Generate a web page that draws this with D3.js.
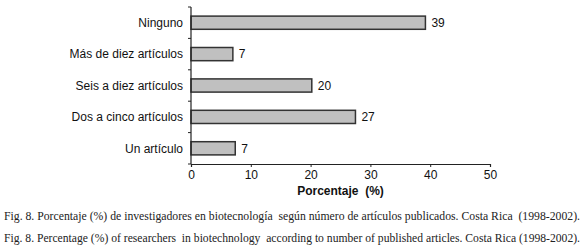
<!DOCTYPE html>
<html>
<head>
<meta charset="utf-8">
<script src="https://cdn.jsdelivr.net/npm/d3@7"></script>
<style>
  body { margin: 0; background: #fff; }
  svg { display: block; }
  .caption { white-space: pre; }
</style>
</head>
<body>
<svg id="chart" width="583" height="248"></svg>
<script>
var categories = ["Ninguno", "Más de diez artículos", "Seis a diez artículos", "Dos a cinco artículos", "Un artículo"]
var values = [39.2, 7, 20.2, 27.5, 7.4]
var valueLabels = ["39", "7", "20", "27", "7"]
var xTicks = [0, 10, 20, 30, 40, 50]
var captions = [
    "Fig. 8. Porcentaje (%) de investigadores en biotecnología  según número de artículos publicados. Costa Rica  (1998-2002).",
    "Fig. 8. Percentage (%) of researchers  in biotechnology  according to number of published articles. Costa Rica (1998-2002)."
]

var margin = { top: 7, left: 191, right: 93, bottom: 84 }
var svg = d3.select("#chart")
var width = 583 - margin.left - margin.right
var height = 248 - margin.top - margin.bottom

var g = svg.append("g")
    .attr("transform", `translate(${margin.left},${margin.top})`)

const X_scale = d3.scaleLinear()
    .domain([0, 50])
    .range([0, width])

const Y_scale = d3.scaleBand()
    .domain(categories)
    .range([0, height])
    .paddingInner(0.58)
    .paddingOuter(0.29)

// bars
g.selectAll("rect.bar")
    .data(categories)
    .join("rect")
    .attr("class", "bar")
    .attr("x", 0)
    .attr("y", d => Y_scale(d))
    .attr("width", (d, i) => X_scale(values[i]))
    .attr("height", Y_scale.bandwidth())
    .attr("fill", "#c0c0c0")
    .attr("stroke", "#333")
    .attr("stroke-width", 1.5)

g.selectAll("text.val")
    .data(categories)
    .join("text")
    .attr("class", "val")
    .attr("x", (d, i) => X_scale(values[i]) + 6)
    .attr("y", d => Y_scale(d) + Y_scale.bandwidth() / 2)
    .attr("dy", "0.35em")
    .attr("font-family", "Liberation Sans, Arial, sans-serif")
    .attr("font-size", 12)
    .attr("fill", "#111")
    .text((d, i) => valueLabels[i])

// y axis: ticks at band boundaries
var boundaries = d3.range(categories.length + 1).map(i => i * height / categories.length)
g.append("line")
    .attr("x1", 0).attr("x2", 0)
    .attr("y1", 0).attr("y2", height)
    .attr("stroke", "#222").attr("stroke-width", 1.2)
g.selectAll("line.ytick")
    .data(boundaries)
    .join("line")
    .attr("class", "ytick")
    .attr("x1", -3).attr("x2", 0)
    .attr("y1", d => d).attr("y2", d => d)
    .attr("stroke", "#222")

g.selectAll("text.cat")
    .data(categories)
    .join("text")
    .attr("class", "cat")
    .attr("x", -8)
    .attr("y", d => Y_scale(d) + Y_scale.bandwidth() / 2)
    .attr("dy", "0.35em")
    .attr("text-anchor", "end")
    .attr("font-family", "Liberation Sans, Arial, sans-serif")
    .attr("font-size", 12)
    .attr("fill", "#111")
    .text(d => d)

// x axis
var xAxis = g.append("g")
    .attr("transform", `translate(0, ${height})`)
    .call(d3.axisBottom(X_scale).tickValues(xTicks).tickSize(3).tickPadding(3))
xAxis.select(".domain").attr("stroke", "#222").attr("stroke-width", 1.2)
xAxis.selectAll(".tick line").attr("stroke", "#222")
xAxis.selectAll(".tick text")
    .attr("font-family", "Liberation Sans, Arial, sans-serif")
    .attr("font-size", 12)
    .attr("fill", "#111")

g.append("text")
    .attr("x", width / 2)
    .attr("y", height + 31)
    .attr("text-anchor", "middle")
    .attr("font-family", "Liberation Sans, Arial, sans-serif")
    .attr("font-size", 12)
    .attr("font-weight", "bold")
    .attr("fill", "#111")
    .text("Porcentaje  (%)")
    .style("white-space", "pre")

// captions
svg.selectAll("text.caption")
    .data(captions)
    .join("text")
    .attr("class", "caption")
    .attr("x", 4)
    .attr("y", (d, i) => 220 + i * 22)
    .attr("font-family", "Liberation Serif, Times New Roman, serif")
    .attr("font-size", 11.5)
    .attr("textLength", 576)
    .attr("lengthAdjust", "spacingAndGlyphs")
    .attr("fill", "#222")
    .text(d => d)
</script>
</body>
</html>
